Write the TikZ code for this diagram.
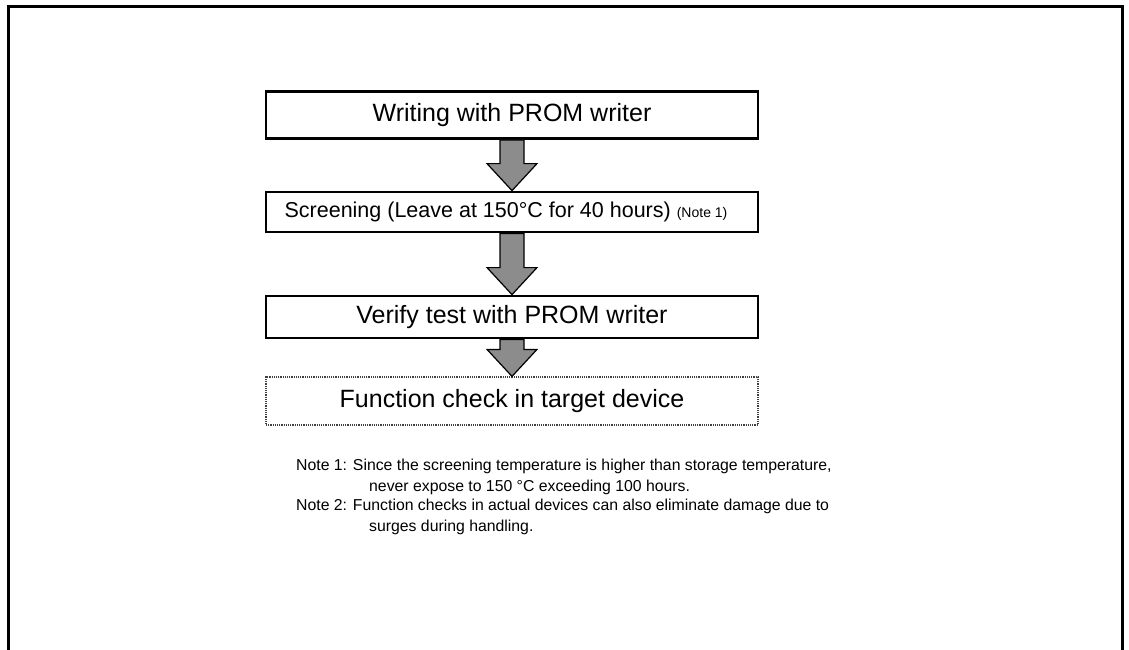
\documentclass[tikz,border=0pt]{standalone}
\usepackage{fontspec}
\setmainfont{Liberation Sans}
\usetikzlibrary{positioning}
\usetikzlibrary{calc}

\tikzset{
  stepbox/.style={draw, line width=2.8pt, minimum width=492pt, inner sep=0pt, font=\fontsize{25}{28}\selectfont},
  checkbox/.style={draw=black!75, densely dotted, line width=1.2pt, minimum width=492pt, inner sep=0pt, font=\fontsize{25}{28}\selectfont},
  fatarrow/.style={draw, line width=1.2pt, fill=black!45},
  notetext/.style={anchor=north west, align=left, inner sep=0pt, font=\fontsize{15.8}{20.5}\selectfont},
  frame/.style={line width=3pt}
}

% thick grey arrow from the bottom of one box to the top of the next
\newcommand{\flowarrow}[2]{
  \filldraw[fatarrow] ($(#1.south)+(-12,0)$) -- ($(#2.north)+(-12,-27)$) -- ($(#2.north)+(-25,-27)$)
    -- (#2.north) -- ($(#2.north)+(25,-27)$) -- ($(#2.north)+(12,-27)$) -- ($(#1.south)+(12,0)$) -- cycle;
}

\begin{document}
\begin{tikzpicture}[x=1pt, y=-1pt]
  \useasboundingbox (0,0) rectangle (1129,650);

  % outer frame, open at the bottom
  \draw[frame] (8,650) -- (8,7) -- (1122,7) -- (1122,650);

  % the four steps
  \node[stepbox, minimum height=47pt] (write) at (512,115) {Writing with PROM writer};
  \node[stepbox, minimum height=40pt, font=\fontsize{21.5}{24}\selectfont] (screen) at (512,212)
    {Screening (Leave at 150°C for 40 hours) {\fontsize{14}{16}\selectfont(Note 1)}\hspace*{12pt}};
  \node[stepbox, minimum height=42pt] (verify) at (512,317) {Verify test with PROM writer};
  \node[checkbox, minimum height=48pt] (check) at (512,401) {Function check in target device};

  \flowarrow{write}{screen}
  \flowarrow{screen}{verify}
  \flowarrow{verify}{check}

  % notes
  \node[notetext] (note1) at (296,459) {Note 1: Since the screening temperature is higher than storage temperature,\\
    \hspace*{73pt}never expose to 150 °C exceeding 100 hours.};
  \node[notetext] (note2) at (296,499) {Note 2: Function checks in actual devices can also eliminate damage due to\\
    \hspace*{73pt}surges during handling.};
\end{tikzpicture}
\end{document}
